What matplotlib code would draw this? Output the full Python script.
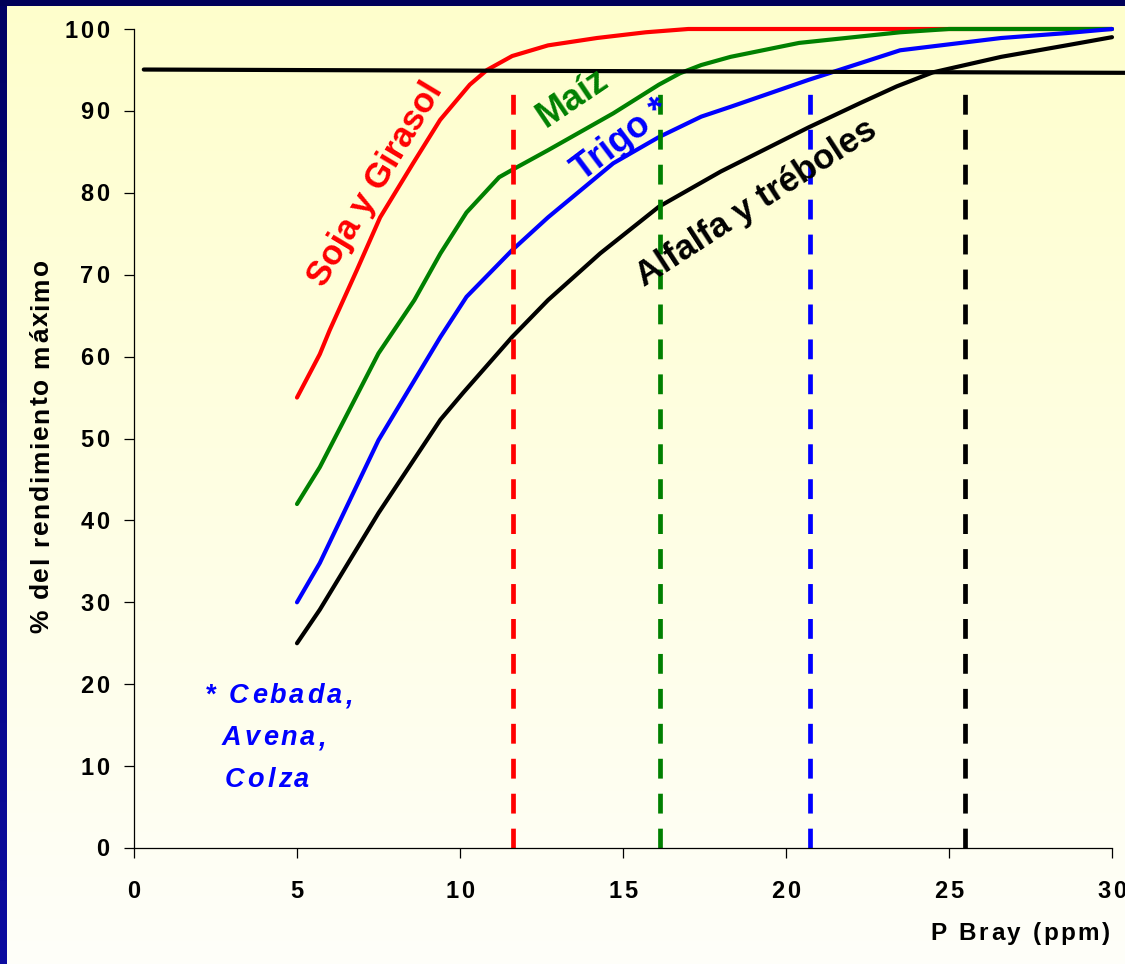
import numpy as np
import matplotlib
matplotlib.use("Agg")
import matplotlib.pyplot as plt
from matplotlib.font_manager import FontProperties, findfont, get_font
try:
    from matplotlib.ft2font import LoadFlags
    NOHINT = LoadFlags.NO_HINTING
except Exception:
    from matplotlib.ft2font import LOAD_NO_HINTING as NOHINT

# ---------------- data ----------------
soja_x = [5, 5.7, 6.0, 6.84, 7.55, 8.56, 9.39, 10.3, 10.83, 11.6, 12.7, 14.2, 15.7, 17, 30]
soja_y = [55, 60.3, 63.2, 70.6, 77.0, 83.6, 88.9, 93.2, 95.0, 96.7, 98.0, 98.9, 99.6, 100, 100]

maiz_x = [5, 5.7, 7.5, 8.6, 9.4, 10.2, 11.2, 11.6, 12.7, 14.7, 16.1, 16.75, 17.4, 18.3, 20.4, 23.5, 25, 30]
maiz_y = [42, 46.5, 60.4, 66.9, 72.6, 77.6, 81.9, 82.8, 85.2, 89.7, 93.2, 94.6, 95.6, 96.6, 98.3, 99.6, 100, 100]

trigo_x = [5, 5.7, 7.5, 9.4, 10.2, 11.6, 12.7, 14.7, 16.1, 17.4, 18.3, 20.7, 23.5, 26.6, 28.6, 30]
trigo_y = [30, 34.8, 49.8, 62.4, 67.3, 73, 77, 83.6, 86.8, 89.3, 90.5, 93.8, 97.4, 98.9, 99.5, 100]

alfalfa_x = [5, 5.7, 7.5, 9.4, 10.1, 11.6, 12.7, 14.3, 16.1, 18.0, 20.7, 22.3, 23.4, 24.5, 26.6, 28.6, 30]
alfalfa_y = [25, 29.1, 40.9, 52.3, 55.6, 62.4, 66.9, 72.6, 78.3, 82.6, 88.0, 91.0, 93.0, 94.7, 96.6, 98.0, 99.0]

umbral_x = [0.3, 30.4]
umbral_y = [95.05, 94.65]

critico_x = [11.63, 16.13, 20.74, 25.5]
critico_top = 93.4
critico_colors = ["#FF0000", "#008000", "#0000FF", "#000000"]

x_ticks = [0, 5, 10, 15, 20, 25, 30]
y_ticks = [0, 10, 20, 30, 40, 50, 60, 70, 80, 90, 100]
x_ticklabels = ["0", "5", "10", "15", "20", "25", "30"]
y_ticklabels = ["0", "10", "20", "30", "40", "50", "60", "70", "80", "90", "100"]
x_label = "P Bray (ppm)"
y_label = "% del rendimiento máximo"
nota = ["* Cebada,", "Avena,", "Colza"]

# ---------------- figure ----------------
W, H = 1125, 964
fig = plt.figure(figsize=(W / 100, H / 100), dpi=100)
plt.rcParams["font.family"] = ["Liberation Sans", "DejaVu Sans"]

# background gradient
bg = fig.add_axes([0, 0, 1, 1], zorder=-10)
grad = np.linspace(0, 1, 256)[:, None]
top = np.array([255, 255, 204]) / 255
bot = np.array([254, 254, 249]) / 255
img = top[None, None, :] * (1 - grad[:, :, None]) + bot[None, None, :] * grad[:, :, None]
bg.imshow(img, aspect="auto", extent=[0, 1, 0, 1], origin="upper")
bg.set_xlim(0, 1)
bg.set_ylim(0, 1)
bg.axis("off")
# navy frame (left and top)
lg = np.linspace(0, 1, 256)[:, None]
ltop = np.array([0, 0, 100]) / 255
lbot = np.array([12, 12, 160]) / 255
limg = ltop[None, None, :] * (1 - lg[:, :, None]) + lbot[None, None, :] * lg[:, :, None]
bg.imshow(limg, aspect="auto", extent=[0, 7 / W, 0, 1], origin="upper", zorder=2)
bg.add_patch(plt.Rectangle((0, 1 - 6 / H), 1, 6 / H, color="#000058", zorder=3, lw=0))

ax = fig.add_axes([134 / W, (H - 848) / H, 978 / W, 819 / H])
ax.patch.set_alpha(0)
ax.set_xlim(0, 30)
ax.set_ylim(0, 100)
for s in ["top", "right"]:
    ax.spines[s].set_visible(False)
for s in ["left", "bottom"]:
    ax.spines[s].set_linewidth(0.9)
ax.set_xticks(x_ticks)
ax.set_yticks(y_ticks)
ax.set_xticklabels([])
ax.set_yticklabels([])
ax.tick_params(direction="out", length=7.5, width=0.9)

lw = 3.0
ax.plot(soja_x, soja_y, color="#FF0000", lw=lw, solid_capstyle="round", clip_on=False)
ax.plot(maiz_x, maiz_y, color="#008000", lw=lw, solid_capstyle="round", clip_on=False)
ax.plot(trigo_x, trigo_y, color="#0000FF", lw=lw, solid_capstyle="round", clip_on=False)
ax.plot(alfalfa_x, alfalfa_y, color="#000000", lw=lw, solid_capstyle="round", clip_on=False)
ax.plot(umbral_x, umbral_y, color="#000000", lw=3.0, solid_capstyle="round", clip_on=False)

for xc, col in zip(critico_x, critico_colors):
    ax.plot([xc, xc], [0, critico_top], color=col, lw=3.4, linestyle=(0, (4.2, 3.2)),
            dash_capstyle="butt", clip_on=False)

# curve labels
ax.text(7.4, 81.0, "Soja y Girasol", color="#FF0000", fontsize=25, fontweight="bold",
        rotation=59, ha="center", va="center", rotation_mode="anchor")
ax.text(13.45, 91.6, "Maíz", color="#008000", fontsize=26, fontweight="bold", rotation=34,
        ha="center", va="center", rotation_mode="anchor")
ax.text(14.95, 86.4, "Trigo *", color="#0000FF", fontsize=26, fontweight="bold", rotation=37,
        ha="center", va="center", rotation_mode="anchor")
ax.text(19.1, 78.8, "Alfalfa y tréboles", color="#000000", fontsize=25, fontweight="bold",
        rotation=33, ha="center", va="center", rotation_mode="anchor")


# letter-spaced text helper (pixel coords, y measured from top)
def spaced(s, px, py, size, spacing, rotation=0, ha="left", weight="normal",
           style="normal", color="black"):
    prop = FontProperties(family="Liberation Sans", weight=weight, style=style, size=size)
    font = get_font(findfont(prop))
    font.set_size(size, 100)
    advs = []
    for ch in s:
        g = font.load_char(ord(ch), flags=NOHINT)
        advs.append(g.linearHoriAdvance / 65536)
    total = sum(advs) + spacing * (len(s) - 1)
    start = {"left": 0, "center": -total / 2, "right": -total}[ha]
    th = np.deg2rad(rotation)
    X0, Y0 = px, H - py
    d = start
    for ch, a in zip(s, advs):
        if ch != " ":
            fig.text((X0 + d * np.cos(th)) / W, (Y0 + d * np.sin(th)) / H, ch,
                     fontproperties=prop, color=color, rotation=rotation,
                     rotation_mode="anchor", ha="left", va="baseline")
        d += a + spacing


# tick labels (letter-spaced, positioned from the axis transform)
to_px = ax.transData
for v, lab in zip(x_ticks, x_ticklabels):
    X, _ = to_px.transform((v, 0))
    spaced(lab, X, 898, 17, 2.5, ha="center", weight="bold")
for v, lab in zip(y_ticks, y_ticklabels):
    _, Y = to_px.transform((0, v))
    spaced(lab, 109, H - Y + 8.5, 17, 2.5, ha="right", weight="bold")

spaced(y_label, 48, 446, 19, 1.7, rotation=90, ha="center", weight="bold")
spaced(x_label, 1110, 940, 17.5, 2.6, ha="right", weight="bold")
spaced(nota[0], 205, 703, 19.5, 3.0, weight="bold", style="italic", color="#0000FF")
spaced(nota[1], 222, 745, 19.5, 3.0, weight="bold", style="italic", color="#0000FF")
spaced(nota[2], 225, 787, 19.5, 3.0, weight="bold", style="italic", color="#0000FF")

fig.savefig("out.png", dpi=100)
